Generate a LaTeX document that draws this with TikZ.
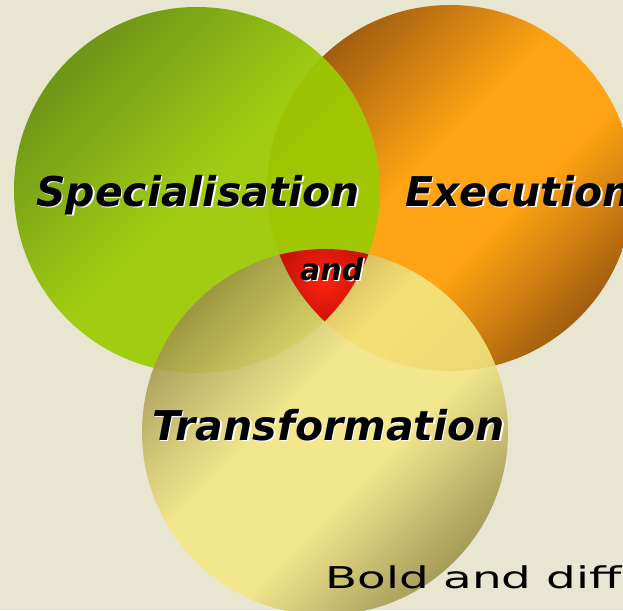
\documentclass[tikz,border=0pt]{standalone}
\usepackage{fontspec}
\newfontfamily\vennfont{DejaVu Sans}[
  ItalicFont={DejaVu Sans Oblique},
  BoldFont={DejaVu Sans Bold},
  BoldItalicFont={DejaVu Sans Bold Oblique}]

\definecolor{bg}{HTML}{E8E6D1}
\definecolor{greendark}{HTML}{668F0A}
\definecolor{greenlight}{HTML}{9CCB04}
\definecolor{orangedark}{HTML}{A25E0E}
\definecolor{orangelight}{HTML}{FFA414}
\definecolor{yellowdark}{HTML}{9C9249}
\definecolor{yellowlight}{HTML}{F4E884}
\definecolor{reddark}{HTML}{990800}
\definecolor{redlight}{HTML}{FF2210}

% gradients run from the lower right (0bp) to the upper left (100bp)
\pgfdeclareverticalshading{greenshade}{100bp}{color(0bp)=(greenlight);
  color(50bp)=(greenlight); color(75bp)=(greendark); color(100bp)=(greendark)}
\pgfdeclareverticalshading{orangeshade}{100bp}{color(0bp)=(orangedark);
  color(25bp)=(orangedark); color(42bp)=(orangelight); color(55bp)=(orangelight);
  color(75bp)=(orangedark); color(100bp)=(orangedark)}
\pgfdeclareverticalshading{yellowshade}{100bp}{color(0bp)=(yellowdark);
  color(25bp)=(yellowdark); color(42bp)=(yellowlight); color(56bp)=(yellowlight);
  color(75bp)=(yellowdark); color(100bp)=(yellowdark)}

\tikzset{
  greendisc/.style={shading=greenshade, shading angle=45, fill opacity=0.93},
  orangedisc/.style={shading=orangeshade, shading angle=45},
  yellowdisc/.style={shading=yellowshade, shading angle=45, fill opacity=0.88},
  redcore/.style={inner color=redlight, outer color=reddark},
  vennlabel/.style={font=\vennfont\bfseries\itshape\fontsize{41}{41}\selectfont,
    inner sep=0pt, anchor=base west, text=black},
  vennshadow/.style={vennlabel, text=white},
  smalllabel/.style={font=\vennfont\bfseries\itshape\fontsize{30}{30}\selectfont,
    inner sep=0pt, anchor=base west, text=black},
  smallshadow/.style={smalllabel, text=white},
  caption/.style={font=\vennfont\fontsize{30}{30}\selectfont,
    inner sep=0pt, anchor=base west, xscale=1.56, text=black}
}

\begin{document}
\begin{tikzpicture}[x=1pt,y=-1pt]
  \path[use as bounding box, fill=bg] (0,0) rectangle (623,610);
  \clip (0,0) rectangle (623,610);

  \coordinate (cg) at (197,190);
  \coordinate (co) at (450,188);
  \coordinate (cy) at (325,432);
  \coordinate (cr) at (324,280);

  % the three discs
  \path[orangedisc] (co) circle[radius=183pt];
  \path[greendisc] (cg) circle[radius=183pt];
  \path[yellowdisc] (cy) circle[radius=183pt];

  % common part of all three discs
  \begin{scope}
    \clip (cg) circle[radius=183pt];
    \clip (co) circle[radius=183pt];
    \clip (cy) circle[radius=183pt];
    \path[redcore] (cr) circle[radius=80pt];
  \end{scope}

  % labels with a light drop shadow
  \node[vennshadow] (spec-s) at (37.5,207.5) {Specialisation};
  \node[vennlabel]  (spec)   at (36,206)     {Specialisation};
  \node[vennshadow] (exec-s) at (406.5,207.5) {Execution};
  \node[vennlabel]  (exec)   at (405,206)     {Execution};
  \node[vennshadow] (trans-s) at (153.5,441.5) {Transformation};
  \node[vennlabel]  (trans)   at (152,440)     {Transformation};
  \node[smallshadow] (and-s) at (301.5,281.5) {and};
  \node[smalllabel]  (and)   at (300,280)     {and};

  \node[caption] (bold) at (325,588) {Bold and diff};
\end{tikzpicture}
\end{document}
